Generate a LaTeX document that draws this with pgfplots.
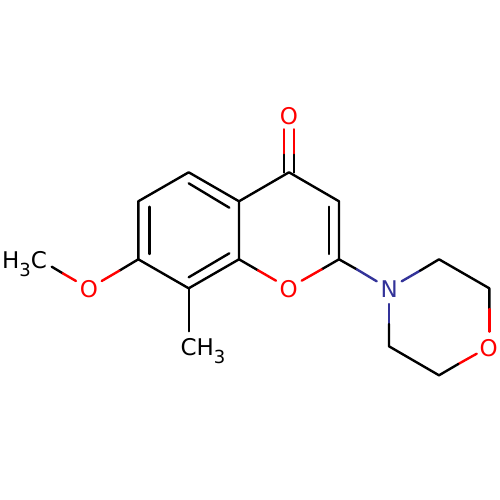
\documentclass[border=0pt]{standalone}
\usepackage{fontspec}
\setmainfont{DejaVu Sans}
\usepackage{pgfplots}
\pgfplotsset{compat=1.18}
\definecolor{oxy}{RGB}{255,0,0}
\definecolor{nit}{RGB}{51,51,153}
\newcommand{\atomfont}{\fontsize{23}{24}\selectfont}
\newcommand{\subthree}{\raisebox{-8.3pt}{\fontsize{18}{18}\selectfont 3}}
\begin{document}
\begin{tikzpicture}
\begin{axis}[
    at={(0pt,0pt)},
    anchor=south west,
    width=500pt, height=500pt,
    scale only axis,
    xmin=0, xmax=500,
    ymin=0, ymax=500,
    y dir=reverse,
    ticks=none,
    axis line style={draw=none},
    clip=false,
    cycle list={{black}},
    every axis plot/.append style={line width=2.4pt, no markers, line cap=round, line join=round},
    bk/.style={black},
    rd/.style={oxy},
    bl/.style={nit},
]
% outer bonds
\addplot[bk] coordinates {(258,270.3) (239,259.3) (188.7,288.3) (138.3,259.3) (119.3,270.7)};
\addplot[bk] coordinates {(138.3,259.3) (138.3,201.3) (188.7,172.3) (239,201.3) (239,259.3)};
\addplot[bk] coordinates {(239,201.3) (289,172.3) (339,201.3) (339,259.3) (321.7,269.3)};
\addplot[bk] coordinates {(339,259.3) (356.7,269.3)};
% inner lines of the double bonds
\addplot[bk] coordinates {(188.7,183.3) (229.3,207.7)};
\addplot[bk] coordinates {(149.3,206.7) (149.3,254)};
\addplot[bk] coordinates {(188.7,277.3) (229.3,253.3)};
\addplot[bk] coordinates {(328.7,206.7) (328.7,254)};
% methyl
\addplot[bk] coordinates {(188.7,288.3) (188.7,331.3)};
\addplot[bk] coordinates {(62.7,273.3) (51.7,266.7)};
% carbonyl
\addplot[bk] coordinates {(283.7,172.5) (283.7,153.3)};
\addplot[bk] coordinates {(294,172.5) (294,153.3)};
\addplot[rd] coordinates {(283.7,153.3) (283.7,129.3)};
\addplot[rd] coordinates {(294,153.3) (294,129.3)};
% ring and methoxy oxygen
\addplot[rd] coordinates {(258,270.3) (276,280.7)};
\addplot[rd] coordinates {(301.7,280.7) (321.7,269.3)};
\addplot[rd] coordinates {(119.3,270.7) (101.7,281)};
\addplot[rd] coordinates {(76,281) (62.7,273.3)};
% morpholine
\addplot[bl] coordinates {(356.7,269.3) (376.7,281.3)};
\addplot[bl] coordinates {(401.7,281.3) (420,270.7)};
\addplot[bl] coordinates {(389,304) (389,324)};
\addplot[bk] coordinates {(420,270.7) (439,259.3) (489.3,288.3) (489.3,309)};
\addplot[rd] coordinates {(489.3,309) (489.3,331.7)};
\addplot[rd] coordinates {(476.7,353.7) (458.3,364)};
\addplot[bk] coordinates {(458.3,364) (439,375.3) (389,346.3) (389,324)};
% atom labels
\node[text=oxy, inner sep=0pt] at (axis cs:289,115.7) {\atomfont O};
\node[text=oxy, inner sep=0pt] at (axis cs:288.7,289.3) {\atomfont O};
\node[text=oxy, inner sep=0pt] at (axis cs:89,289.3) {\atomfont O};
\node[text=oxy, inner sep=0pt] at (axis cs:488.7,347.7) {\atomfont O};
\node[text=nit, inner sep=0pt] at (axis cs:389.3,289.3) {\atomfont N};
\node[anchor=base west, inner sep=0pt] at (axis cs:2,268.5) {\atomfont H\subthree C};
\node[anchor=base west, inner sep=0pt] at (axis cs:180.3,355.5) {\atomfont CH\subthree};
\end{axis}
\end{tikzpicture}
\end{document}
